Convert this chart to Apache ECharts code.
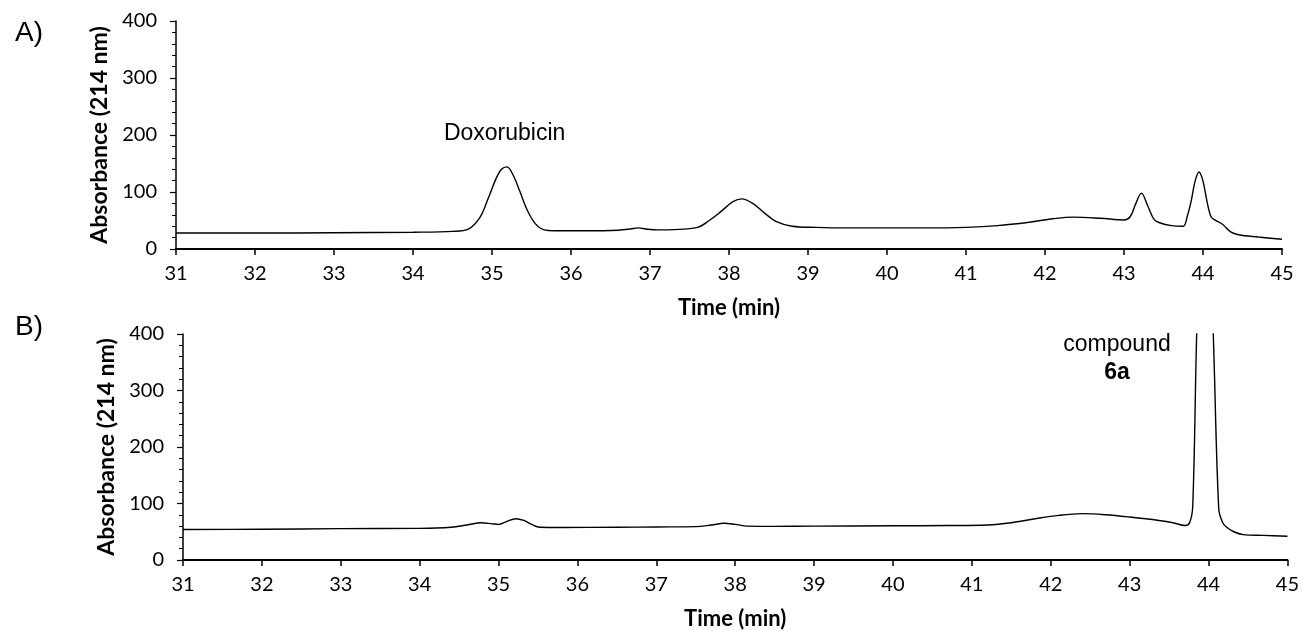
<!DOCTYPE html>
<html>
<head>
<meta charset="utf-8">
<script src="https://cdn.jsdelivr.net/npm/echarts@6/dist/echarts.min.js"></script>
<style>html,body{margin:0;padding:0;background:#fff}#c{width:1302px;height:631px}</style>
</head>
<body>
<div id="c"></div>
<script>
// Panel A (doxorubicin)
const timeA = [31.0,32.0,33.0,34.0,34.5,34.7,34.85,34.95,35.05,35.12,35.19,35.27,35.35,35.45,35.55,35.65,35.8,36.2,36.6,36.75,36.85,36.95,37.1,37.3,37.6,37.75,37.9,38.05,38.16,38.3,38.45,38.6,38.8,39.1,39.5,40.0,40.5,41.0,41.4,41.8,42.1,42.35,42.7,43.0,43.08,43.15,43.22,43.3,43.38,43.45,43.6,43.75,43.8,43.85,43.9,43.95,44.0,44.05,44.1,44.15,44.25,44.35,44.45,44.7,45.0];
const absA  = [28,28,28.5,29.5,31,35,56,88,123,140,144,129,102,67,44,34,32,32,33,35,37,35,33.5,34,38,50,66,83,88,80,63,48,40,38,37,37,37,38,41,47,53,56,54,51,57,80,98,76,52,46,41,40,57,84,119,135,119,84,57,51,43,30,25,21,17];
// Panel B (compound 6a)
const timeB = [31.0,32.0,33.0,34.0,34.4,34.6,34.78,34.92,35.0,35.1,35.22,35.32,35.42,35.52,35.8,36.5,37.0,37.5,37.7,37.86,38.0,38.15,38.5,39.0,40.0,40.7,41.2,41.5,41.8,42.1,42.4,42.7,43.0,43.37,43.55,43.7,43.76,43.8,43.85,43.9,43.95,44.0,44.06,44.13,44.18,44.23,44.32,44.44,44.7,45.0];
const absB  = [54,54.5,55.5,56,58,62,66,64,63,68,73,70,63,58,57.5,58,58.5,59,62,65,63,60,59.5,60,60.5,61,62,66,73,79,82,80,76,70,66,61,66,95,400,600,650,600,400,90,66,58,50,45,43.5,42];
const xTicks = {min: 31, max: 45, interval: 1};
const yTicks = {min: 0, max: 400, interval: 100};
const yName = 'Absorbance (214 nm)';
const xName = 'Time (min)';

const zip = (a, b) => a.map((t, i) => [t, b[i]]);
const tickFont = {fontFamily: 'Lato', fontSize: 20, color: '#000'};
function xAxis(gi) {
  return {
    type: 'value', gridIndex: gi, min: xTicks.min, max: xTicks.max, interval: xTicks.interval,
    name: xName, nameLocation: 'middle', nameGap: 59,
    nameTextStyle: {fontFamily: 'Lato', fontWeight: 'bold', fontSize: 22, color: '#000', verticalAlign: 'middle'},
    axisLine: {onZero: false, lineStyle: {color: '#000', width: 2}},
    axisTick: {show: true, length: 6, lineStyle: {color: '#000', width: 1.5}},
    axisLabel: Object.assign({margin: 15}, tickFont),
    splitLine: {show: false}
  };
}
function yAxis(gi) {
  return {
    type: 'value', gridIndex: gi, min: yTicks.min, max: yTicks.max, interval: yTicks.interval,
    name: yName, nameLocation: 'middle', nameGap: 65,
    nameTextStyle: {fontFamily: 'Lato', fontWeight: 'bold', fontSize: 23, color: '#000', verticalAlign: 'middle'},
    axisLine: {show: true, lineStyle: {color: '#000', width: 1.5}},
    axisTick: {show: true, length: 6, lineStyle: {color: '#000', width: 1.2}},
    minorTick: {show: true, splitNumber: 5, length: 4, lineStyle: {color: '#000', width: 1}},
    axisLabel: Object.assign({margin: 19}, tickFont),
    splitLine: {show: false}
  };
}
const chart = echarts.init(document.getElementById('c'), null, {renderer: 'canvas'});
chart.setOption({
  backgroundColor: '#fff',
  animation: false,
  title: [
    {text: 'A)', left: 10, top: 14, textStyle: {fontFamily: 'Liberation Sans', fontWeight: 'normal', fontSize: 28, color: '#000'}},
    {text: 'B)', left: 10, top: 308, textStyle: {fontFamily: 'Liberation Sans', fontWeight: 'normal', fontSize: 28, color: '#000'}}
  ],
  grid: [
    {left: 176, top: 21, width: 1106, height: 228},
    {left: 183, top: 334, width: 1106, height: 229}
  ],
  xAxis: [xAxis(0), xAxis(1)],
  yAxis: [yAxis(0), yAxis(1)],
  series: [
    {
      type: 'line', xAxisIndex: 0, yAxisIndex: 0, data: zip(timeA, absA),
      smooth: 0.35, showSymbol: false, symbol: 'none',
      lineStyle: {color: '#000', width: 1.4},
      markPoint: {
        symbol: 'circle', symbolSize: 0,
        data: [{coord: [35.16, 203], value: 'Doxorubicin'}],
        label: {show: true, position: 'inside', formatter: 'Doxorubicin', fontFamily: 'Liberation Sans', fontSize: 23, color: '#000'}
      }
    },
    {
      type: 'line', xAxisIndex: 1, yAxisIndex: 1, data: zip(timeB, absB),
      smooth: 0.35, showSymbol: false, symbol: 'none', clip: true,
      lineStyle: {color: '#000', width: 1.4},
      markPoint: {
        symbol: 'circle', symbolSize: 0,
        data: [{coord: [42.84, 357], value: 'compound'}],
        label: {show: true, position: 'inside', formatter: 'compound\n{b|6a}', fontFamily: 'Liberation Sans', fontSize: 23, color: '#000', lineHeight: 28,
          rich: {b: {fontFamily: 'Liberation Sans', fontWeight: 'bold', fontSize: 23, color: '#000', lineHeight: 28}}}
      }
    }
  ]
});
</script>
</body>
</html>
